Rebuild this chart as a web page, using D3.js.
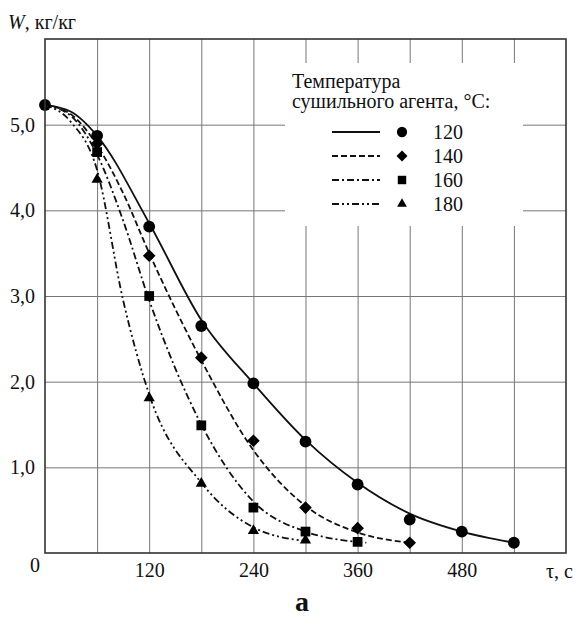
<!DOCTYPE html>
<html>
<head>
<meta charset="utf-8">
<script src="https://cdn.jsdelivr.net/npm/d3@7"></script>
<style>
  body { margin: 0; background: #fff; }
  svg { display: block; }
  svg text { font-family: 'Liberation Serif', 'DejaVu Serif', 'Times New Roman', serif; fill: #111; }
</style>
</head>
<body>
<svg id="chart"></svg>
<script>
// drying agent temperatures, deg C
const temps = [120, 140, 160, 180];

// measured points (markers)
const t120 = [0, 60, 120, 180, 240, 300, 360, 420, 480, 540];
const w120 = [5.23, 4.87, 3.81, 2.65, 1.98, 1.30, 0.80, 0.39, 0.25, 0.12];
const t140 = [60, 120, 180, 240, 300, 360, 420];
const w140 = [4.78, 3.47, 2.28, 1.31, 0.53, 0.29, 0.12];
const t160 = [60, 120, 180, 240, 300, 360];
const w160 = [4.68, 3.00, 1.49, 0.53, 0.25, 0.13];
const t180 = [60, 120, 180, 240, 300];
const w180 = [4.36, 1.81, 0.81, 0.26, 0.15];

// fitted curves
const c120t = [0, 30, 60, 120, 180, 240, 300, 360, 420, 480, 540];
const c120w = [5.23, 5.15, 4.87, 3.85, 2.72, 1.98, 1.32, 0.82, 0.46, 0.25, 0.12];
const c140t = [0, 30, 60, 90, 120, 180, 240, 300, 360, 420];
const c140w = [5.23, 5.12, 4.76, 4.2, 3.5, 2.25, 1.2, 0.55, 0.24, 0.12];
const c160t = [0, 30, 60, 90, 120, 180, 240, 300, 370];
const c160w = [5.23, 5.1, 4.65, 3.88, 2.95, 1.5, 0.6, 0.25, 0.12];
const c180t = [0, 30, 60, 90, 120, 180, 240, 300];
const c180w = [5.23, 5.03, 4.47, 2.95, 1.85, 0.82, 0.3, 0.14];

const xGrid = [60, 120, 180, 240, 300, 360, 420, 480, 540];
const xLabels = [120, 240, 360, 480];
const yTicks = [1, 2, 3, 4, 5];

let svg = d3.select('#chart'),
    margin = {top: 39, right: 19, bottom: 65, left: 45},
    width = 585 - margin.left - margin.right,
    height = 618 - margin.top - margin.bottom,
    g = svg.append('g').attr('transform', 'translate(' + margin.left + ',' + margin.top + ')');

svg.attr('width', 585).attr('height', 618);

let x = d3.scaleLinear().domain([0, 600]).range([0, width]);
let y = d3.scaleLinear().domain([0, 6]).range([height, 0]);

let comma = function(v) { return d3.format('.1f')(v).replace('.', ','); };

// grid
g.append('g')
    .attr('class', 'grid-x')
    .attr('transform', 'translate(0,' + height + ')')
    .call(d3.axisBottom(x).tickValues(xGrid).tickSize(-height).tickFormat(''))
    .call(function(a) { a.select('.domain').remove(); })
    .selectAll('line').attr('stroke', '#777').attr('stroke-width', 1);

g.append('g')
    .attr('class', 'grid-y')
    .attr('font-family', null)
    .call(d3.axisLeft(y).tickValues(yTicks).tickSize(-width).tickFormat(comma).tickPadding(10))
    .call(function(a) { a.select('.domain').remove(); })
    .call(function(a) {
        a.selectAll('line').attr('stroke', '#777').attr('stroke-width', 1);
        a.selectAll('text').attr('font-size', 20);
    });

// x labels
g.append('g')
    .attr('class', 'axis-x')
    .attr('transform', 'translate(0,' + height + ')')
    .call(d3.axisBottom(x).tickValues(xLabels).tickSize(0).tickPadding(10))
    .call(function(a) {
        a.select('.domain').remove();
        a.selectAll('text').attr('font-size', 20);
    });

// legend box blanks out the grid behind it
g.append('rect')
    .attr('x', 240)
    .attr('y', 24)
    .attr('width', 238)
    .attr('height', 163)
    .attr('fill', '#fff');

// curves
let styles = [
    {dash: null, marker: d3.symbolCircle, size: 110, rot: 0},
    {dash: '6,3', marker: d3.symbolSquare, size: 80, rot: 45},
    {dash: '7,3,2,3', marker: d3.symbolSquare, size: 95, rot: 0},
    {dash: '7,3,2,3,2,3', marker: d3.symbolTriangle, size: 55, rot: 0}
];
let curves = [[c120t, c120w], [c140t, c140w], [c160t, c160w], [c180t, c180w]];
let points = [[t120, w120], [t140, w140], [t160, w160], [t180, w180]];

let line = d3.line()
    .x(function(d) { return x(d[0]); })
    .y(function(d) { return y(d[1]); })
    .curve(d3.curveMonotoneX);

g.selectAll('.curve')
    .data(curves)
    .enter().append('path')
    .attr('class', 'curve')
    .attr('fill', 'none')
    .attr('stroke', '#111')
    .attr('stroke-width', 1.8)
    .attr('stroke-dasharray', function(d, i) { return styles[i].dash; })
    .attr('d', function(d) { return line(d3.zip(d[0], d[1])); });

points.forEach(function(p, i) {
    g.selectAll('.pt' + i)
        .data(d3.zip(p[0], p[1]))
        .enter().append('path')
        .attr('class', 'pt' + i)
        .attr('transform', function(d) {
            return 'translate(' + x(d[0]) + ',' + y(d[1]) + ') rotate(' + styles[i].rot + ')';
        })
        .attr('d', d3.symbol().type(styles[i].marker).size(styles[i].size))
        .attr('fill', '#000');
});

// frame
g.append('rect')
    .attr('width', width)
    .attr('height', height)
    .attr('fill', 'none')
    .attr('stroke', '#333')
    .attr('stroke-width', 1.6);

// legend
let lg = g.append('g').attr('transform', 'translate(247,0)');
lg.append('text').attr('x', 0).attr('y', 49).attr('font-size', 20).text('Температура');
lg.append('text').attr('x', 0).attr('y', 69).attr('font-size', 20).text('сушильного агента, °C:');

let item = lg.selectAll('.legend')
    .data(temps)
    .enter().append('g')
    .attr('class', 'legend')
    .attr('transform', function(d, i) { return 'translate(0,' + (93 + i * 24) + ')'; });

item.append('line')
    .attr('x1', 40).attr('x2', 88)
    .attr('stroke', '#111')
    .attr('stroke-width', 1.8)
    .attr('stroke-dasharray', function(d, i) { return styles[i].dash; });

item.append('path')
    .attr('transform', function(d, i) { return 'translate(110,0) rotate(' + styles[i].rot + ')'; })
    .attr('d', function(d, i) { return d3.symbol().type(styles[i].marker).size(styles[i].size * 0.75)(); })
    .attr('fill', '#000');

item.append('text')
    .attr('x', 141)
    .attr('y', 7)
    .attr('font-size', 20)
    .text(function(d) { return d; });

// axis titles
let yTitle = svg.append('text').attr('x', 8).attr('y', 29).attr('font-size', 20);
yTitle.append('tspan').attr('font-style', 'italic').text('W');
yTitle.append('tspan').text(', кг/кг');

svg.append('text').attr('x', 35).attr('y', 572).attr('text-anchor', 'middle').attr('font-size', 20).text('0');
svg.append('text').attr('x', 546).attr('y', 578).attr('font-size', 20).text('τ, с');
svg.append('text').attr('x', 302).attr('y', 611).attr('text-anchor', 'middle')
    .attr('font-size', 28).attr('font-weight', 'bold').text('а');
</script>
</body>
</html>
